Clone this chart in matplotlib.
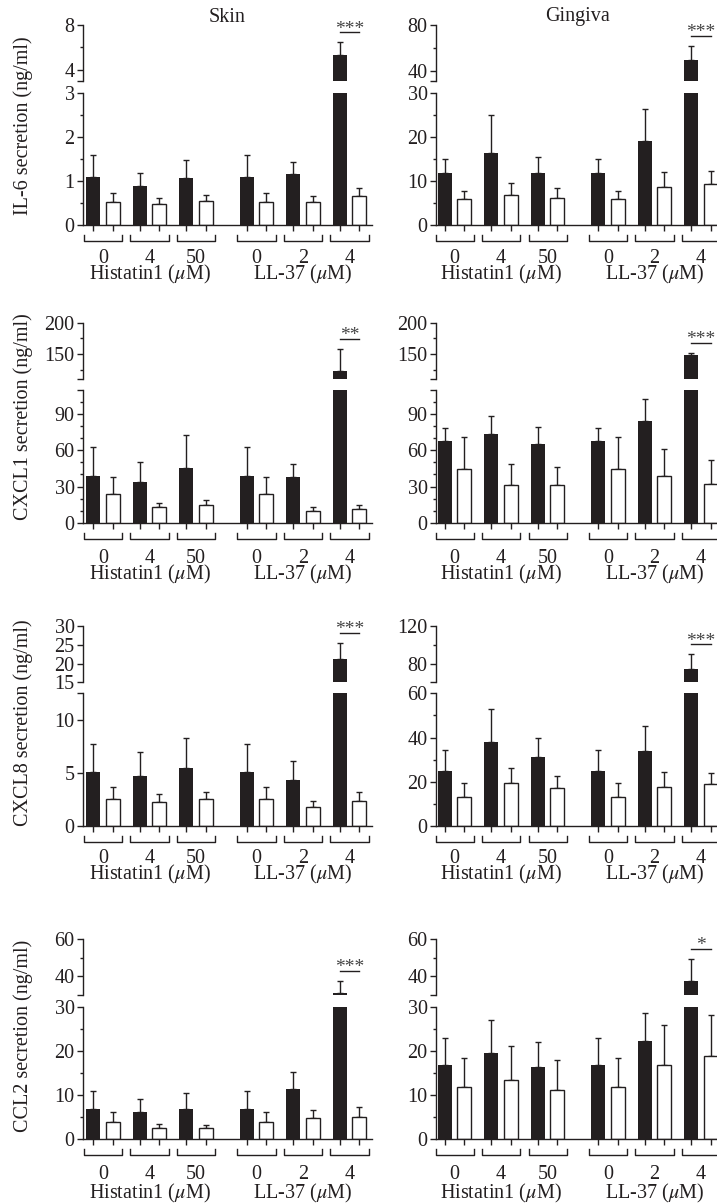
import numpy as np
import matplotlib.pyplot as plt
import matplotlib.transforms as mtransforms
from matplotlib.ticker import FixedLocator

plt.rcParams['font.family'] = ['Liberation Serif', 'DejaVu Serif']
plt.rcParams['mathtext.fontset'] = 'stix'
plt.rcParams['font.size'] = 15

# ---------------- data ----------------
dose_labels = ['0', '4', '50', '0', '2', '4']
group_labels = ['Histatin1 ($\\mu$M)', 'LL-37 ($\\mu$M)']
tissues = ['Skin', 'Gingiva']
cytokines = ['IL-6', 'CXCL1', 'CXCL8', 'CCL2']

# IL-6 (ng/ml)
il6_skin_black = [1.10, 0.89, 1.06, 1.10, 1.16, 5.33]
il6_skin_black_sd = [0.48, 0.30, 0.42, 0.48, 0.27, 1.13]
il6_skin_white = [0.53, 0.48, 0.56, 0.53, 0.53, 0.67]
il6_skin_white_sd = [0.19, 0.14, 0.13, 0.19, 0.14, 0.18]
il6_ging_black = [11.9, 16.4, 11.8, 11.9, 19.1, 49.4]
il6_ging_black_sd = [3.1, 8.5, 3.7, 3.1, 7.2, 12.2]
il6_ging_white = [5.9, 6.9, 6.2, 5.9, 8.6, 9.3]
il6_ging_white_sd = [1.9, 2.7, 2.3, 1.9, 3.5, 3.05]

# CXCL1 (ng/ml)
cxcl1_skin_black = [38.9, 33.9, 45.0, 38.9, 37.5, 123.1]
cxcl1_skin_black_sd = [23.9, 16.7, 28.1, 23.9, 11.4, 34.8]
cxcl1_skin_white = [23.7, 12.8, 14.7, 23.7, 10.0, 11.7]
cxcl1_skin_white_sd = [13.8, 3.9, 4.2, 13.8, 2.8, 3.0]
cxcl1_ging_black = [67.5, 73.9, 65.0, 67.5, 84.5, 149.0]
cxcl1_ging_black_sd = [10.8, 14.4, 14.2, 10.8, 18.3, 2.6]
cxcl1_ging_white = [44.5, 31.4, 31.1, 44.5, 38.3, 32.0]
cxcl1_ging_white_sd = [26.9, 17.2, 14.7, 26.9, 23.1, 20.0]

# CXCL8 (ng/ml)
cxcl8_skin_black = [5.12, 4.70, 5.44, 5.12, 4.31, 21.3]
cxcl8_skin_black_sd = [2.58, 2.30, 2.86, 2.58, 1.79, 4.15]
cxcl8_skin_white = [2.55, 2.26, 2.52, 2.55, 1.76, 2.39]
cxcl8_skin_white_sd = [1.15, 0.73, 0.68, 1.15, 0.63, 0.84]
cxcl8_ging_black = [24.9, 38.0, 31.3, 24.9, 33.7, 75.0]
cxcl8_ging_black_sd = [9.4, 14.9, 8.4, 9.4, 11.4, 15.2]
cxcl8_ging_white = [12.9, 19.3, 17.0, 12.9, 17.6, 19.1]
cxcl8_ging_white_sd = [6.4, 6.7, 5.7, 6.4, 6.9, 4.9]

# CCL2 (ng/ml)
ccl2_skin_black = [6.75, 6.0, 6.7, 6.75, 11.2, 31.3]
ccl2_skin_black_sd = [4.05, 3.0, 3.6, 4.05, 4.0, 6.4]
ccl2_skin_white = [3.7, 2.5, 2.5, 3.7, 4.6, 5.0]
ccl2_skin_white_sd = [2.3, 0.9, 0.6, 2.3, 1.9, 2.3]
ccl2_ging_black = [16.8, 19.5, 16.2, 16.8, 22.1, 37.3]
ccl2_ging_black_sd = [6.0, 7.4, 5.7, 6.0, 6.5, 12.2]
ccl2_ging_white = [11.8, 13.3, 11.1, 11.8, 16.7, 18.8]
ccl2_ging_white_sd = [6.6, 7.7, 6.9, 6.6, 9.2, 9.4]

significance = [['***', '***'], ['**', '***'], ['***', '***'], ['***', '*']]

panels = [
    [(il6_skin_black, il6_skin_black_sd, il6_skin_white, il6_skin_white_sd),
     (il6_ging_black, il6_ging_black_sd, il6_ging_white, il6_ging_white_sd)],
    [(cxcl1_skin_black, cxcl1_skin_black_sd, cxcl1_skin_white, cxcl1_skin_white_sd),
     (cxcl1_ging_black, cxcl1_ging_black_sd, cxcl1_ging_white, cxcl1_ging_white_sd)],
    [(cxcl8_skin_black, cxcl8_skin_black_sd, cxcl8_skin_white, cxcl8_skin_white_sd),
     (cxcl8_ging_black, cxcl8_ging_black_sd, cxcl8_ging_white, cxcl8_ging_white_sd)],
    [(ccl2_skin_black, ccl2_skin_black_sd, ccl2_skin_white, ccl2_skin_white_sd),
     (ccl2_ging_black, ccl2_ging_black_sd, ccl2_ging_white, ccl2_ging_white_sd)],
]

# broken axis settings for each panel
axis_cfg = [
    [dict(lo=(0, 3), lo_ticks=[0, 1, 2, 3], lo_minor=0.5, hi=(3, 8), hi_ticks=[4, 8], hi_minor=[6]),
     dict(lo=(0, 30), lo_ticks=[0, 10, 20, 30], lo_minor=5, hi=(31, 80), hi_ticks=[40, 80], hi_minor=[60])],
    [dict(lo=(0, 110), lo_ticks=[0, 30, 60, 90], lo_minor=10, hi=(110, 200), hi_ticks=[150, 200], hi_minor=[125, 175]),
     dict(lo=(0, 110), lo_ticks=[0, 30, 60, 90], lo_minor=10, hi=(110, 200), hi_ticks=[150, 200], hi_minor=[125, 175])],
    [dict(lo=(0, 12.5), lo_ticks=[0, 5, 10], lo_minor=None, hi=(15, 30), hi_ticks=[15, 20, 25, 30], hi_minor=[]),
     dict(lo=(0, 60), lo_ticks=[0, 20, 40, 60], lo_minor=10, hi=(61, 120), hi_ticks=[80, 120], hi_minor=[100])],
    [dict(lo=(0, 30), lo_ticks=[0, 10, 20, 30], lo_minor=5, hi=(30, 60), hi_ticks=[40, 60], hi_minor=[50]),
     dict(lo=(0, 30), lo_ticks=[0, 10, 20, 30], lo_minor=5, hi=(30, 60), hi_ticks=[40, 60], hi_minor=[50])],
]

# ---------------- layout (pixels) ----------------
W, H = 717, 1204
row_px = [(25, 81, 92.7, 225.3), (322.7, 379.3, 390, 522.7),
          (626, 682.3, 693.3, 826), (939.3, 995, 1006.7, 1138.7)]
col_px = [(83, 372), (436, 717)]
xlims = [(-0.43, 5.785), (-0.40, 5.645)]
num_base = [37.5, 40, 37, 40.5]
grp_base = [54, 56.5, 53, 60]
ylabel_y = [126, 417, 723, 1036]
title_x = [227, 578]

DARK = '#231f20'
FS = 14.5
pair_x = np.arange(6) + 0.3 * (np.arange(6) >= 3)
bx = pair_x - 0.21
wx = pair_x + 0.21
bw = 0.30

fig = plt.figure(figsize=(W / 100, H / 100), dpi=100)


def px_axes(l, t, r, b):
    return fig.add_axes([l / W, 1 - b / H, (r - l) / W, (b - t) / H])


def style_y(ax, ticks, labels, minor):
    ax.yaxis.set_major_locator(FixedLocator(ticks))
    ax.set_yticklabels(labels)
    if minor is not None:
        ax.yaxis.set_minor_locator(FixedLocator(minor))
    ax.tick_params(axis='y', which='major', direction='out', length=4, width=1.0,
                   color=DARK, pad=2, labelsize=FS, labelcolor=DARK)
    ax.tick_params(axis='y', which='minor', direction='out', length=2.5, width=1.0, color=DARK)
    for s in ['top', 'right']:
        ax.spines[s].set_visible(False)
    ax.spines['left'].set_linewidth(1.0)
    ax.spines['left'].set_color(DARK)


for r in range(4):
    tt, tb, bt, bb = row_px[r]
    for c in range(2):
        l, rr = col_px[c]
        black, black_sd, white, white_sd = panels[r][c]
        cfg = axis_cfg[r][c]
        hi = px_axes(l, tt, rr, tb)
        lo = px_axes(l, bt, rr, bb)
        for ax in (hi, lo):
            ax.set_facecolor('none')
            ax.bar(bx, black, bw, color=DARK, zorder=2)
            ax.bar(wx, white, bw, facecolor='white', edgecolor=DARK, linewidth=1.0, zorder=2)
            ax.errorbar(bx, black, yerr=[np.zeros(6), black_sd], fmt='none', ecolor=DARK,
                        elinewidth=1.0, capsize=2.5, capthick=1.0, zorder=1)
            ax.errorbar(wx, white, yerr=[np.zeros(6), white_sd], fmt='none', ecolor=DARK,
                        elinewidth=1.0, capsize=2.5, capthick=1.0, zorder=1)
            ax.set_xlim(*xlims[c])

        # lower part of the broken axis
        lo.set_ylim(*cfg['lo'])
        lo_ticks = list(cfg['lo_ticks'])
        lo_labels = [('%g' % v) for v in lo_ticks]
        if cfg['lo'][1] not in lo_ticks:
            lo_ticks.append(cfg['lo'][1])
            lo_labels.append('')
        minor = None
        if cfg['lo_minor']:
            minor = np.arange(0, cfg['lo'][1] + 1e-9, cfg['lo_minor'])
        style_y(lo, lo_ticks, lo_labels, minor)
        lo.spines['bottom'].set_linewidth(1.0)
        lo.spines['bottom'].set_color(DARK)
        lo.set_xticks(np.concatenate([bx, wx]))
        lo.set_xticklabels([])
        lo.tick_params(axis='x', direction='out', length=4, width=1.0, color=DARK)

        # upper part of the broken axis
        hi.set_ylim(*cfg['hi'])
        hi_ticks = list(cfg['hi_ticks'])
        hi_labels = [('%g' % v) for v in hi_ticks]
        if cfg['hi'][0] not in hi_ticks:
            hi_ticks.insert(0, cfg['hi'][0])
            hi_labels.insert(0, '')
        style_y(hi, hi_ticks, hi_labels, cfg['hi_minor'])
        hi.spines['bottom'].set_visible(False)
        hi.set_xticks([])

        # brackets, doses and group labels under the axis
        h = bb - bt
        xt = lo.get_xaxis_transform()
        for p, lab in zip(pair_x, dose_labels):
            lo.plot([p - 0.41, p - 0.41, p + 0.41, p + 0.41],
                    [-10 / h, -16 / h, -16 / h, -10 / h], transform=xt,
                    color=DARK, lw=1.0, clip_on=False)
            lo.text(p, -num_base[r] / h, lab, transform=xt, ha='center', va='baseline',
                    fontsize=FS, color=DARK)
        lo.text(pair_x[1], -grp_base[r] / h, group_labels[0], transform=xt,
                ha='center', va='baseline', fontsize=FS, color=DARK)
        lo.text(pair_x[4], -grp_base[r] / h, group_labels[1], transform=xt,
                ha='center', va='baseline', fontsize=FS, color=DARK)

        # significance mark above the LL-37 4 uM pair
        top = black[5] + black_sd[5]
        line_tr = mtransforms.offset_copy(hi.transData, fig=fig, x=0, y=7.2, units='points')
        hi.plot([bx[5], wx[5]], [top, top], transform=line_tr, color=DARK, lw=1.0, clip_on=False)
        star_tr = mtransforms.offset_copy(hi.transData, fig=fig, x=0, y=9.5, units='points')
        hi.text(pair_x[5], top, significance[r][c], transform=star_tr, ha='center', va='center',
                fontsize=14, color='#444444')

    fig.text(23 / W, 1 - ylabel_y[r] / H, cytokines[r] + ' secretion (ng/ml)', rotation=90,
             ha='center', va='center', fontsize=FS, color=DARK)

for c in range(2):
    fig.text(title_x[c] / W, 1 - 17 / H, tissues[c], ha='center', va='center', fontsize=FS, color=DARK)

fig.savefig('out.png', dpi=100)
